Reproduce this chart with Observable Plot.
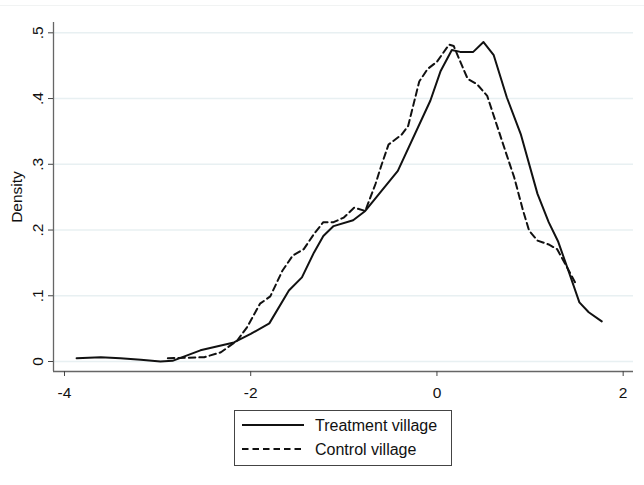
<!DOCTYPE html>
<html><head><meta charset="utf-8">
<script src="https://cdn.jsdelivr.net/npm/d3@7"></script>
<script src="https://cdn.jsdelivr.net/npm/@observablehq/plot@0.6"></script>
<style>
body{margin:0;background:#fff;font-family:"Liberation Sans",Arial,sans-serif;}
#wrap{position:relative;width:644px;height:485px;overflow:hidden;}
#topline{position:absolute;left:0;top:5px;width:644px;height:1px;background:#f1f3f3;}
#legend{position:absolute;left:234px;top:410px;width:218px;height:56px;border:1px solid #444;box-sizing:border-box;background:#fff;}
#legend .sw{position:absolute;left:7px;width:62px;height:4px;}
#legend .lb{position:absolute;left:80px;font-size:16px;line-height:18px;color:#111;white-space:nowrap;}
</style>
</head><body>
<div id="wrap"><div id="chart"></div><div id="topline"></div>
<div id="legend">
  <svg class="sw" style="top:12px" width="62" height="4"><line x1="0" y1="2" x2="62" y2="2" stroke="#111" stroke-width="2"/></svg>
  <span class="lb" style="top:6px">Treatment village</span>
  <svg class="sw" style="top:36px" width="62" height="4"><line x1="0" y1="2" x2="62" y2="2" stroke="#111" stroke-width="2" stroke-dasharray="6.5,4"/></svg>
  <span class="lb" style="top:30px">Control village</span>
</div>
</div>
<script>
// Series
const treatX = [-3.87,-3.61,-3.40,-3.18,-2.97,-2.84,-2.54,-2.18,-2.00,-1.80,-1.59,-1.45,-1.32,-1.22,-1.11,-0.90,-0.77,-0.42,-0.07,0.04,0.16,0.25,0.39,0.50,0.61,0.75,0.90,1.08,1.20,1.30,1.40,1.53,1.63,1.77];
const treatY = [0.005,0.0065,0.005,0.0026,0.0,0.001,0.017,0.029,0.042,0.058,0.108,0.128,0.166,0.191,0.206,0.215,0.229,0.290,0.397,0.442,0.474,0.471,0.471,0.486,0.466,0.402,0.346,0.255,0.212,0.183,0.143,0.090,0.075,0.061];
const ctrlX = [-2.89,-2.50,-2.32,-2.145,-2.04,-1.90,-1.79,-1.66,-1.55,-1.43,-1.32,-1.22,-1.11,-1.00,-0.89,-0.77,-0.66,-0.60,-0.52,-0.38,-0.31,-0.19,-0.10,0.00,0.13,0.18,0.23,0.33,0.43,0.54,0.74,0.83,0.92,0.99,1.08,1.20,1.29,1.38,1.50];
const ctrlY = [0.005,0.0065,0.014,0.032,0.052,0.088,0.099,0.138,0.161,0.171,0.194,0.212,0.212,0.219,0.234,0.229,0.27,0.297,0.330,0.345,0.358,0.426,0.445,0.456,0.482,0.480,0.463,0.430,0.422,0.404,0.318,0.280,0.232,0.199,0.184,0.178,0.171,0.148,0.116];
const xTicks = [-4,-2,0,2];
const yTicks = [0,0.1,0.2,0.3,0.4,0.5];
const xDomain = [-4.118, 2.111];
const yDomain = [-0.0152, 0.5157];

const treatment = treatX.map((x,i)=>({x, y: treatY[i]}));
const control = ctrlX.map((x,i)=>({x, y: ctrlY[i]}));
const yFmt = d => d === 0 ? "0" : d3.format(".1f")(d).replace(/^0/, "");

const plot = Plot.plot({
  width: 644, height: 400,
  marginLeft: 53, marginRight: 11, marginTop: 22, marginBottom: 29,
  style: {fontFamily: "'Liberation Sans', Arial, sans-serif", fontSize: "15px", background: "#fff", color: "#111"},
  x: {domain: xDomain},
  y: {domain: yDomain},
  marks: [
    Plot.ruleY(yTicks, {stroke: "#e8f0f2", strokeWidth: 1.5}),
    Plot.line(treatment, {x: "x", y: "y", stroke: "#111", strokeWidth: 2}),
    Plot.line(control, {x: "x", y: "y", stroke: "#111", strokeWidth: 2, strokeDasharray: "6.5,4"}),
    Plot.ruleX([xDomain[0]], {stroke: "#666", strokeWidth: 1.3}),
    Plot.ruleY([yDomain[0]], {stroke: "#666", strokeWidth: 1.3}),
    Plot.axisX({ticks: xTicks, tickSize: 5, tickPadding: 10, tickFormat: d => String(d).replace("−","-"), fontSize: 15.5, stroke: "#444", label: null}),
    Plot.axisY({ticks: yTicks, tickSize: 5, tickPadding: 6, tickRotate: -90, tickFormat: yFmt, fontSize: 15.5, stroke: "#444", label: null}),
    Plot.text(["Density"], {frameAnchor: "left", dx: -36, rotate: -90, textAnchor: "middle", text: d => d, fontSize: 15.5})
  ]
});
document.getElementById("chart").appendChild(plot);
</script>
</body></html>
